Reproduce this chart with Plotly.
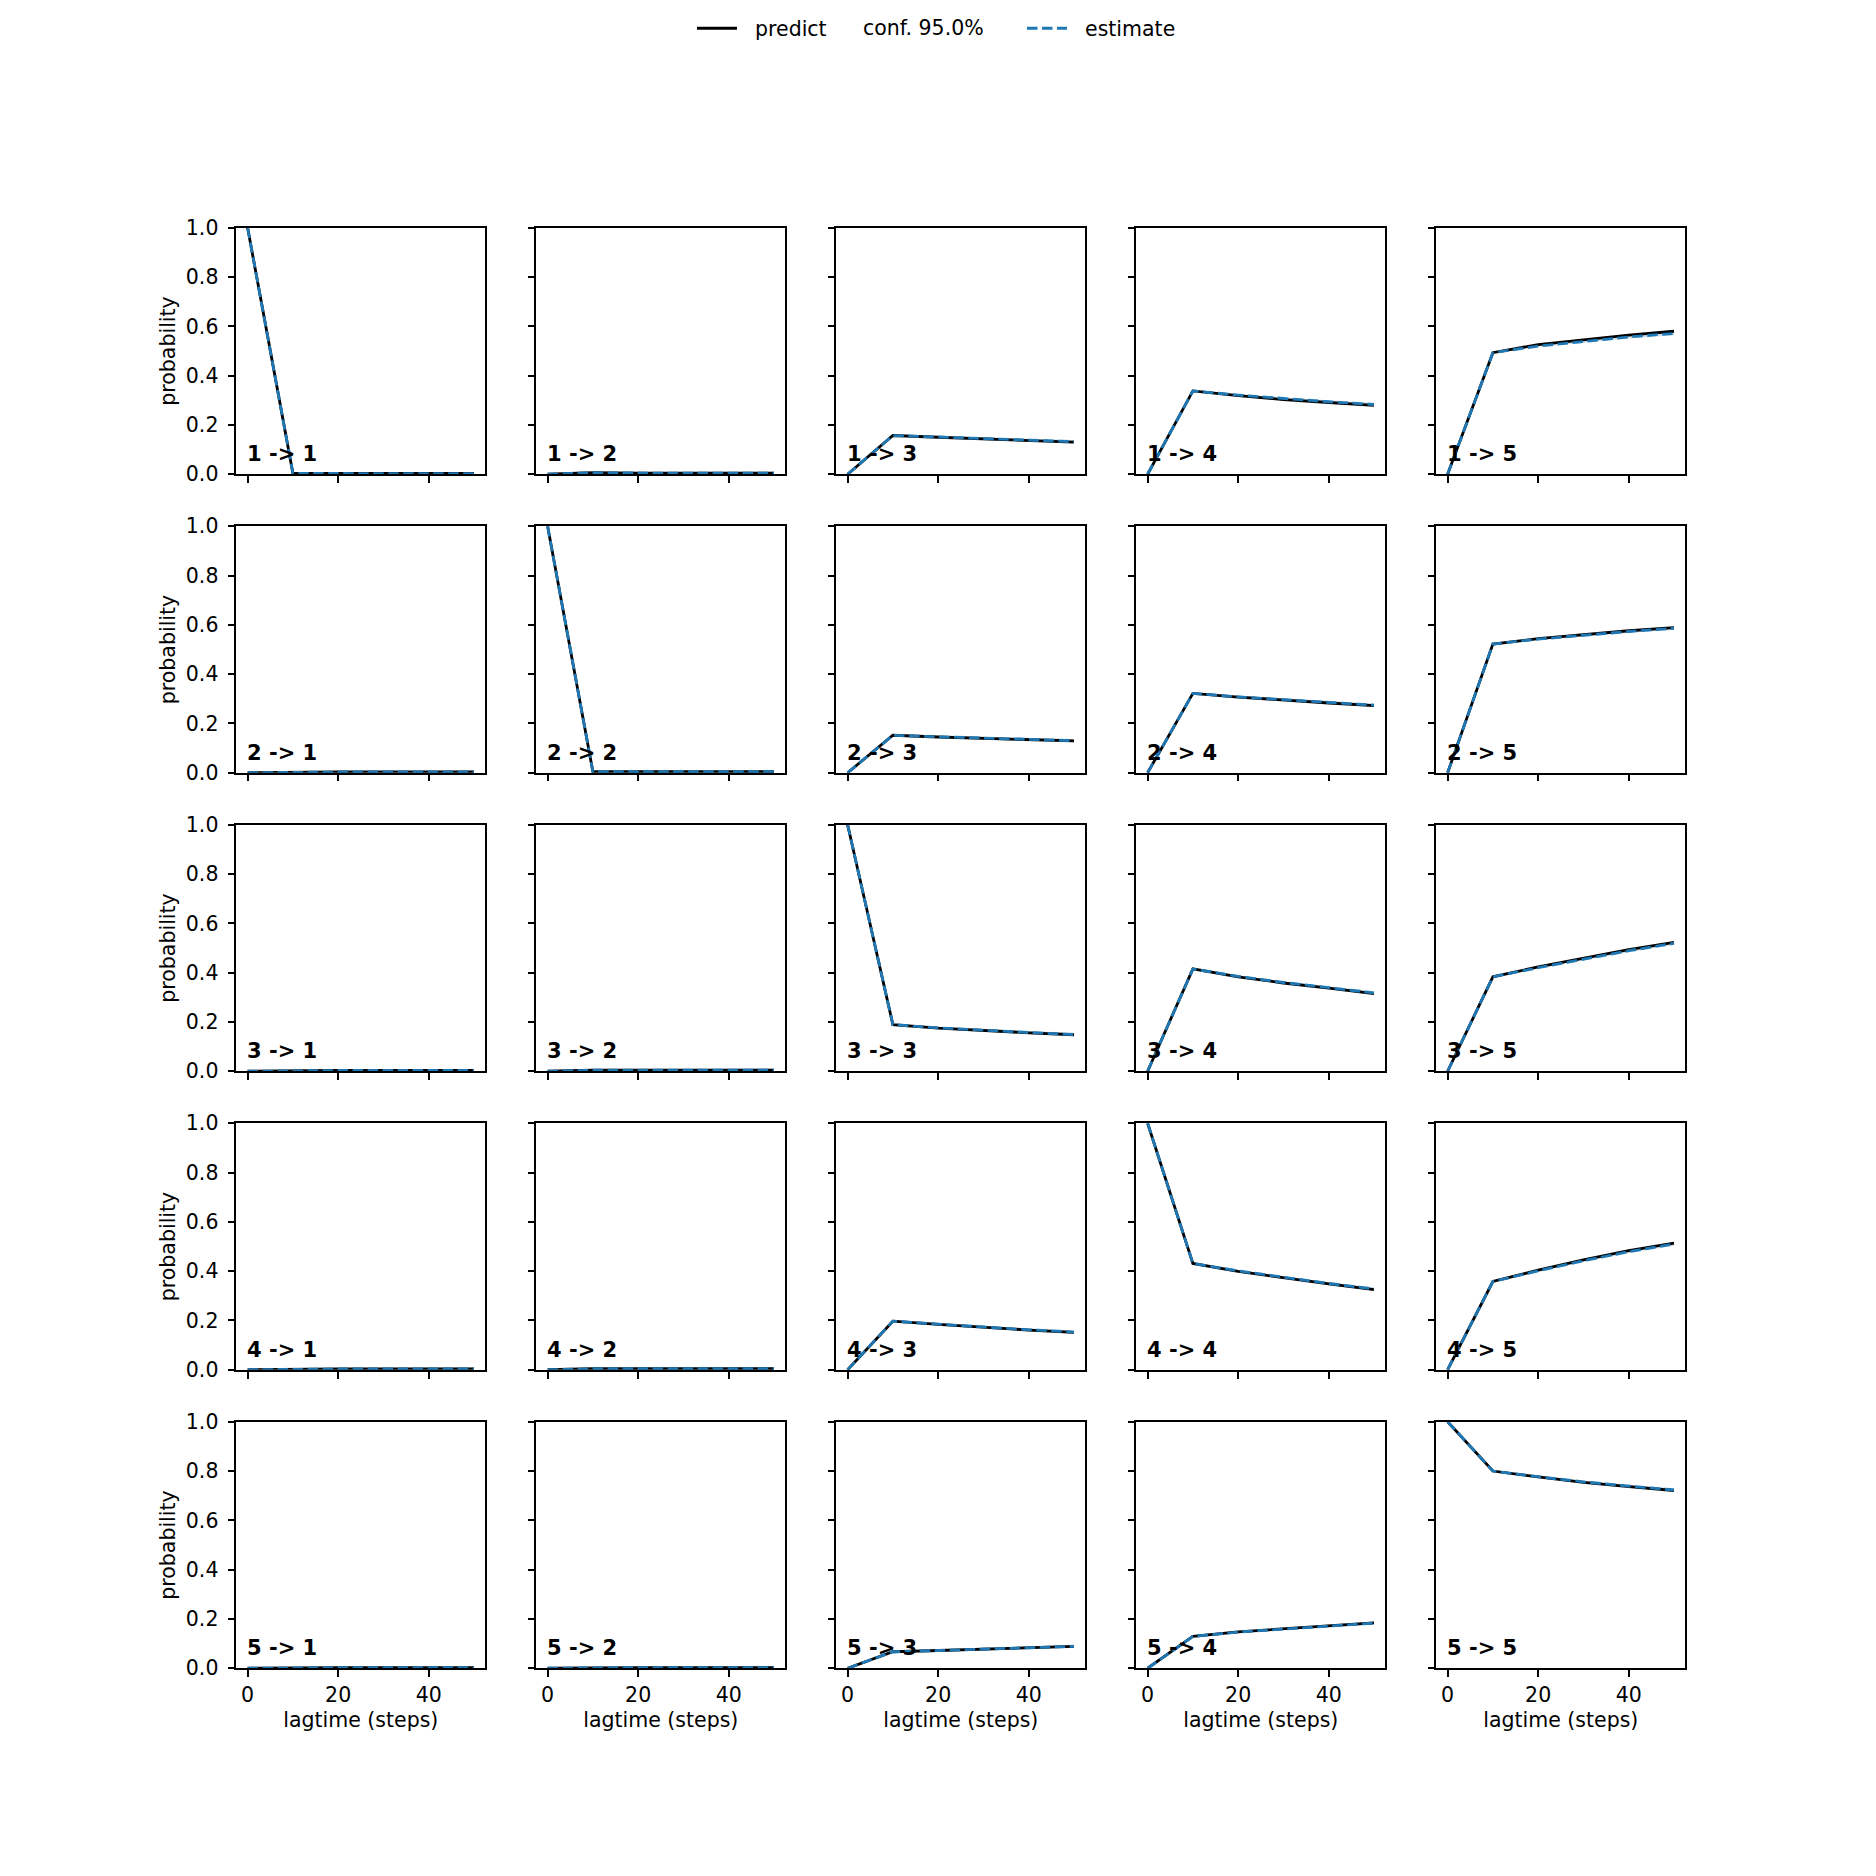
import plotly.graph_objects as go

# ---------------- data ----------------
lagtimes = [0, 10, 20, 30, 40, 50]
states = ["1", "2", "3", "4", "5"]

# predicted probabilities, row i = from state i, entries = to state j
predict_from_1 = [
    [1.0, 0.004, 0.003, 0.003, 0.003, 0.003],
    [0.0, 0.006, 0.004, 0.004, 0.004, 0.004],
    [0.0, 0.157, 0.150, 0.144, 0.137, 0.130],
    [0.0, 0.338, 0.319, 0.303, 0.291, 0.279],
    [0.0, 0.493, 0.526, 0.546, 0.564, 0.580],
]
predict_from_2 = [
    [0.0, 0.003, 0.003, 0.003, 0.003, 0.003],
    [1.0, 0.004, 0.004, 0.004, 0.004, 0.004],
    [0.0, 0.152, 0.145, 0.140, 0.134, 0.129],
    [0.0, 0.322, 0.307, 0.294, 0.283, 0.272],
    [0.0, 0.522, 0.544, 0.561, 0.576, 0.589],
]
predict_from_3 = [
    [0.0, 0.003, 0.003, 0.003, 0.003, 0.003],
    [0.0, 0.004, 0.004, 0.004, 0.004, 0.004],
    [1.0, 0.189, 0.175, 0.164, 0.156, 0.148],
    [0.0, 0.415, 0.383, 0.358, 0.337, 0.315],
    [0.0, 0.383, 0.423, 0.459, 0.493, 0.523],
]
predict_from_4 = [
    [0.0, 0.003, 0.003, 0.003, 0.003, 0.003],
    [0.0, 0.004, 0.004, 0.004, 0.004, 0.004],
    [0.0, 0.197, 0.184, 0.172, 0.161, 0.152],
    [1.0, 0.431, 0.399, 0.372, 0.348, 0.325],
    [0.0, 0.358, 0.404, 0.446, 0.483, 0.514],
]
predict_from_5 = [
    [0.0, 0.002, 0.002, 0.002, 0.002, 0.002],
    [0.0, 0.003, 0.003, 0.003, 0.003, 0.003],
    [0.0, 0.067, 0.072, 0.078, 0.083, 0.089],
    [0.0, 0.129, 0.148, 0.161, 0.173, 0.184],
    [1.0, 0.800, 0.776, 0.754, 0.737, 0.721],
]

# directly estimated probabilities
estimate_from_1 = [
    [1.0, 0.004, 0.003, 0.003, 0.002, 0.002],
    [0.0, 0.006, 0.005, 0.004, 0.004, 0.004],
    [0.0, 0.157, 0.151, 0.145, 0.138, 0.132],
    [0.0, 0.338, 0.321, 0.306, 0.294, 0.283],
    [0.0, 0.493, 0.520, 0.540, 0.557, 0.571],
]
estimate_from_2 = [
    [0.0, 0.003, 0.003, 0.003, 0.003, 0.003],
    [1.0, 0.004, 0.004, 0.004, 0.004, 0.004],
    [0.0, 0.152, 0.146, 0.141, 0.135, 0.130],
    [0.0, 0.322, 0.308, 0.296, 0.285, 0.274],
    [0.0, 0.522, 0.542, 0.558, 0.573, 0.586],
]
estimate_from_3 = [
    [0.0, 0.003, 0.003, 0.003, 0.003, 0.003],
    [0.0, 0.004, 0.004, 0.004, 0.004, 0.004],
    [1.0, 0.189, 0.176, 0.165, 0.157, 0.149],
    [0.0, 0.415, 0.385, 0.360, 0.339, 0.318],
    [0.0, 0.383, 0.420, 0.455, 0.489, 0.519],
]
estimate_from_4 = [
    [0.0, 0.003, 0.003, 0.003, 0.003, 0.003],
    [0.0, 0.004, 0.004, 0.004, 0.004, 0.004],
    [0.0, 0.197, 0.185, 0.173, 0.162, 0.153],
    [1.0, 0.431, 0.401, 0.374, 0.350, 0.328],
    [0.0, 0.358, 0.401, 0.442, 0.479, 0.510],
]
estimate_from_5 = [
    [0.0, 0.002, 0.002, 0.002, 0.002, 0.002],
    [0.0, 0.003, 0.003, 0.003, 0.003, 0.003],
    [0.0, 0.067, 0.072, 0.078, 0.083, 0.089],
    [0.0, 0.129, 0.147, 0.160, 0.172, 0.183],
    [1.0, 0.800, 0.777, 0.756, 0.739, 0.723],
]

# half-width of the 95% confidence band around the estimate
conf_halfwidth = [0.0, 0.003, 0.004, 0.005, 0.006, 0.007]

predict_rows = [predict_from_1, predict_from_2, predict_from_3, predict_from_4, predict_from_5]
estimate_rows = [estimate_from_1, estimate_from_2, estimate_from_3, estimate_from_4, estimate_from_5]

x_tickvals = [0, 20, 40]
y_tickvals = [0.0, 0.2, 0.4, 0.6, 0.8, 1.0]

# ---------------- layout constants ----------------
W = H = 1876
FONT = "DejaVu Sans"
FS = 20.5
BLUE = "#1f77b4"
col_left = [228.3 + i * 300.0 for i in range(5)]
row_top = [208.6 + j * 302.7 for j in range(5)]
PW, PH = 249.0, 250.0
NB = "\u00a0\u00a0"

fig = go.Figure()
layout = dict(
    width=W, height=H,
    margin=dict(l=0, r=0, t=0, b=0),
    paper_bgcolor="white", plot_bgcolor="white",
    font=dict(family=FONT, size=FS, color="black"),
    showlegend=True,
)
annotations = []

k = 0
for i in range(5):
    for j in range(5):
        k += 1
        xa = "x" if k == 1 else f"x{k}"
        ya = "y" if k == 1 else f"y{k}"
        pred = predict_rows[i][j]
        est = estimate_rows[i][j]
        lo = [max(e - h, 0.0) for e, h in zip(est, conf_halfwidth)]
        hi = [e + h for e, h in zip(est, conf_halfwidth)]
        fig.add_trace(go.Scatter(x=lagtimes, y=lo, mode="lines", line=dict(width=0),
                                 xaxis=xa, yaxis=ya, showlegend=False, hoverinfo="skip"))
        fig.add_trace(go.Scatter(x=lagtimes, y=hi, mode="lines", line=dict(width=0),
                                 fill="tonexty", fillcolor="rgba(31,119,180,0.22)",
                                 xaxis=xa, yaxis=ya, showlegend=False, hoverinfo="skip"))
        fig.add_trace(go.Scatter(x=lagtimes, y=pred, mode="lines",
                                 line=dict(color="black", width=2.8),
                                 name=NB + "predict", legend="legend",
                                 xaxis=xa, yaxis=ya, showlegend=(k == 1)))
        fig.add_trace(go.Scatter(x=lagtimes, y=est, mode="lines",
                                 line=dict(color=BLUE, width=2.8, dash="10.5px,4.5px"),
                                 name=NB + "estimate", legend="legend2",
                                 xaxis=xa, yaxis=ya, showlegend=(k == 1)))

        L = col_left[j]
        T = row_top[i]
        xkey = "xaxis" if k == 1 else f"xaxis{k}"
        ykey = "yaxis" if k == 1 else f"yaxis{k}"
        layout[xkey] = dict(
            domain=[L / W, (L + PW) / W], anchor=ya, range=[-2.5, 52.5],
            tickvals=x_tickvals, showticklabels=(i == 4), ticks="outside",
            ticklen=7, tickwidth=1.5, tickcolor="black",
            showline=True, linecolor="black", linewidth=1.5, mirror=True,
            showgrid=False, zeroline=False, fixedrange=True,
            tickfont=dict(family=FONT, size=FS, color="black"),
            title=dict(text="lagtime (steps)" if i == 4 else "",
                       font=dict(family=FONT, size=FS, color="black"), standoff=7.5),
        )
        layout[ykey] = dict(
            domain=[1 - (T + PH) / H, 1 - T / H], anchor=xa, range=[0, 1],
            tickvals=y_tickvals, tickformat=".1f", showticklabels=(j == 0),
            ticks="outside", ticklen=7, tickwidth=1.5, tickcolor="black",
            ticklabelstandoff=5,
            showline=True, linecolor="black", linewidth=1.5, mirror=True,
            showgrid=False, zeroline=False, fixedrange=True,
            tickfont=dict(family=FONT, size=FS, color="black"),
            title=dict(text="probability" if j == 0 else "",
                       font=dict(family=FONT, size=FS, color="black"), standoff=5),
        )
        annotations.append(dict(
            text=f"{states[i]} -> {states[j]}", xref=f"{xa} domain", yref=f"{ya} domain",
            x=0.035, y=0.025, xanchor="left", yanchor="bottom", showarrow=False,
            font=dict(family=FONT, size=21, color="black", weight="bold"),
        ))

# legend text for the confidence band
annotations.append(dict(
    text="conf. 95.0%", xref="paper", yref="paper", x=853 / W, y=1 - 6.5 / H,
    xanchor="left", yanchor="middle", showarrow=False,
    font=dict(family=FONT, size=FS, color="black"),
))

layout["annotations"] = annotations
layout["legend"] = dict(orientation="h", x=684 / W, y=1 - 6.5 / H, xanchor="left", yanchor="middle",
                        bgcolor="rgba(0,0,0,0)", borderwidth=0, itemwidth=40,
                        font=dict(family=FONT, size=FS, color="black"))
layout["legend2"] = dict(orientation="h", x=1014 / W, y=1 - 6.5 / H, xanchor="left", yanchor="middle",
                         bgcolor="rgba(0,0,0,0)", borderwidth=0, itemwidth=40,
                         font=dict(family=FONT, size=FS, color="black"))
fig.update_layout(**layout)
fig.write_html("out.html")
